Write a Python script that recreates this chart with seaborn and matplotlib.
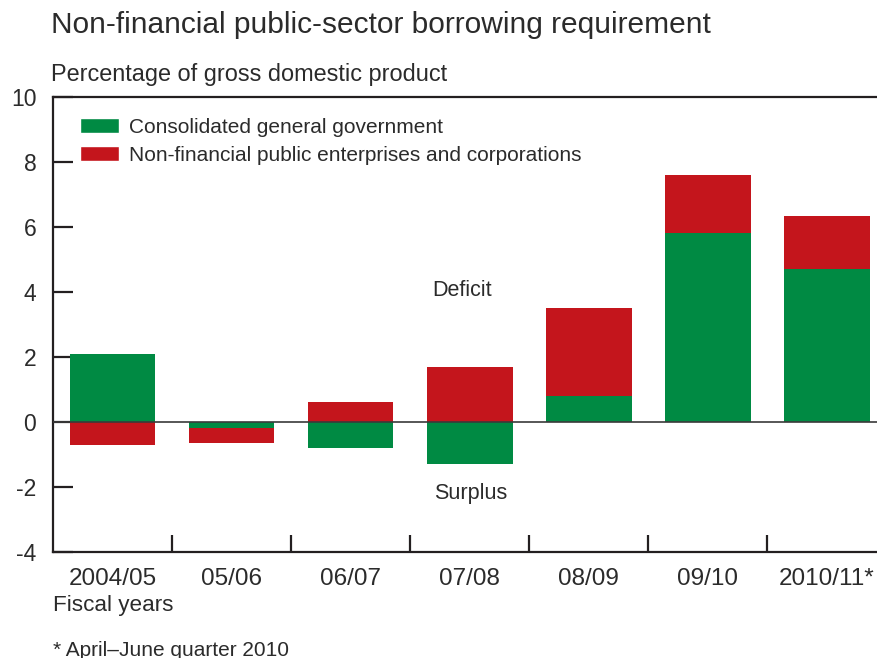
import pandas as pd
import seaborn as sns
import matplotlib.pyplot as plt
from matplotlib.patches import Patch

# fiscal years and shares of GDP
years = ['2004/05', '05/06', '06/07', '07/08', '08/09', '09/10', '2010/11*']
general_gov = [2.1, -0.2, -0.8, -1.3, 0.8, 5.8, 4.7]
enterprises = [-0.72, -0.44, 0.6, 1.7, 2.7, 1.8, 1.63]

GREEN = '#008A43'
RED = '#C4151C'
INK = '#2b2b2b'
W, H = 878, 658


def stacked_frame(years, base, top):
    # red segment sits on the green one when both share a sign
    df = pd.DataFrame({'year': years, 'base': base, 'top': top})
    same_sign = (df['base'] * df['top']) > 0
    df['top_end'] = df['top'].where(~same_sign, df['top'] + df['base'])
    return df


def fig_xy(x, y):
    # pixel position (from top-left) to figure fraction
    return x / W, 1 - y / H


df = stacked_frame(years, general_gov, enterprises)

sns.set_style('white')
plt.rcParams['font.family'] = ['Liberation Sans', 'DejaVu Sans']
plt.rcParams['text.color'] = INK
plt.rcParams['axes.unicode_minus'] = False

fig = plt.figure(figsize=(W / 100, H / 100), dpi=100)
ax = fig.add_axes([53 / W, (H - 551.7) / H, (W - 53) / W, 454.7 / H])

sns.barplot(data=df, x='year', y='top_end', color=RED, width=0.72,
            saturation=1, linewidth=0, ax=ax)
sns.barplot(data=df, x='year', y='base', color=GREEN, width=0.72,
            saturation=1, linewidth=0, ax=ax)

ax.axhline(0, color='#3a3a3a', lw=1.2, zorder=3)

ax.set_xlim(-0.5, 6.43)
ax.set_ylim(-4, 10)
ax.set_yticks(range(-4, 11, 2))
ax.set_xlabel('')
ax.set_ylabel('')

for side in ['left', 'bottom', 'top']:
    ax.spines[side].set_visible(True)
    ax.spines[side].set_color('#231F20')
    ax.spines[side].set_linewidth(1.6)
ax.spines['right'].set_visible(False)

ax.tick_params(axis='y', direction='in', length=14.4, width=1.6, color='#231F20',
               labelsize=16.5, labelcolor=INK, pad=12, left=True)
ax.tick_params(axis='x', which='major', length=0, labelsize=17.5,
               labelcolor=INK, pad=11.5)
ax.set_xticks([i + 0.5 for i in range(len(years) - 1)], minor=True)
ax.tick_params(axis='x', which='minor', direction='in', length=12,
               width=1.6, color='#231F20', bottom=True)

fig.text(*fig_xy(462, 291), 'Deficit', fontsize=15.5, ha='center', va='center')
fig.text(*fig_xy(471, 494), 'Surplus', fontsize=15.5, ha='center', va='center')

handles = [Patch(facecolor=GREEN, label='Consolidated general government'),
           Patch(facecolor=RED, label='Non-financial public enterprises and corporations')]
ax.legend(handles=handles, loc='upper left', frameon=False, fontsize=15,
          bbox_to_anchor=fig_xy(80, 118), bbox_transform=fig.transFigure,
          borderpad=0, borderaxespad=0, handlelength=1.85, handleheight=0.72,
          handletextpad=0.5, labelspacing=0.42)

fig.text(*fig_xy(51, 25), 'Non-financial public-sector borrowing requirement',
         fontsize=21.5, va='center', ha='left')
fig.text(*fig_xy(51, 74), 'Percentage of gross domestic product',
         fontsize=16.9, va='center', ha='left')
fig.text(*fig_xy(53, 605), 'Fiscal years', fontsize=16.2, va='center', ha='left')
fig.text(*fig_xy(53, 650), '* April\u2013June quarter 2010', fontsize=15,
         va='center', ha='left')

fig.savefig('out.png', dpi=100)
